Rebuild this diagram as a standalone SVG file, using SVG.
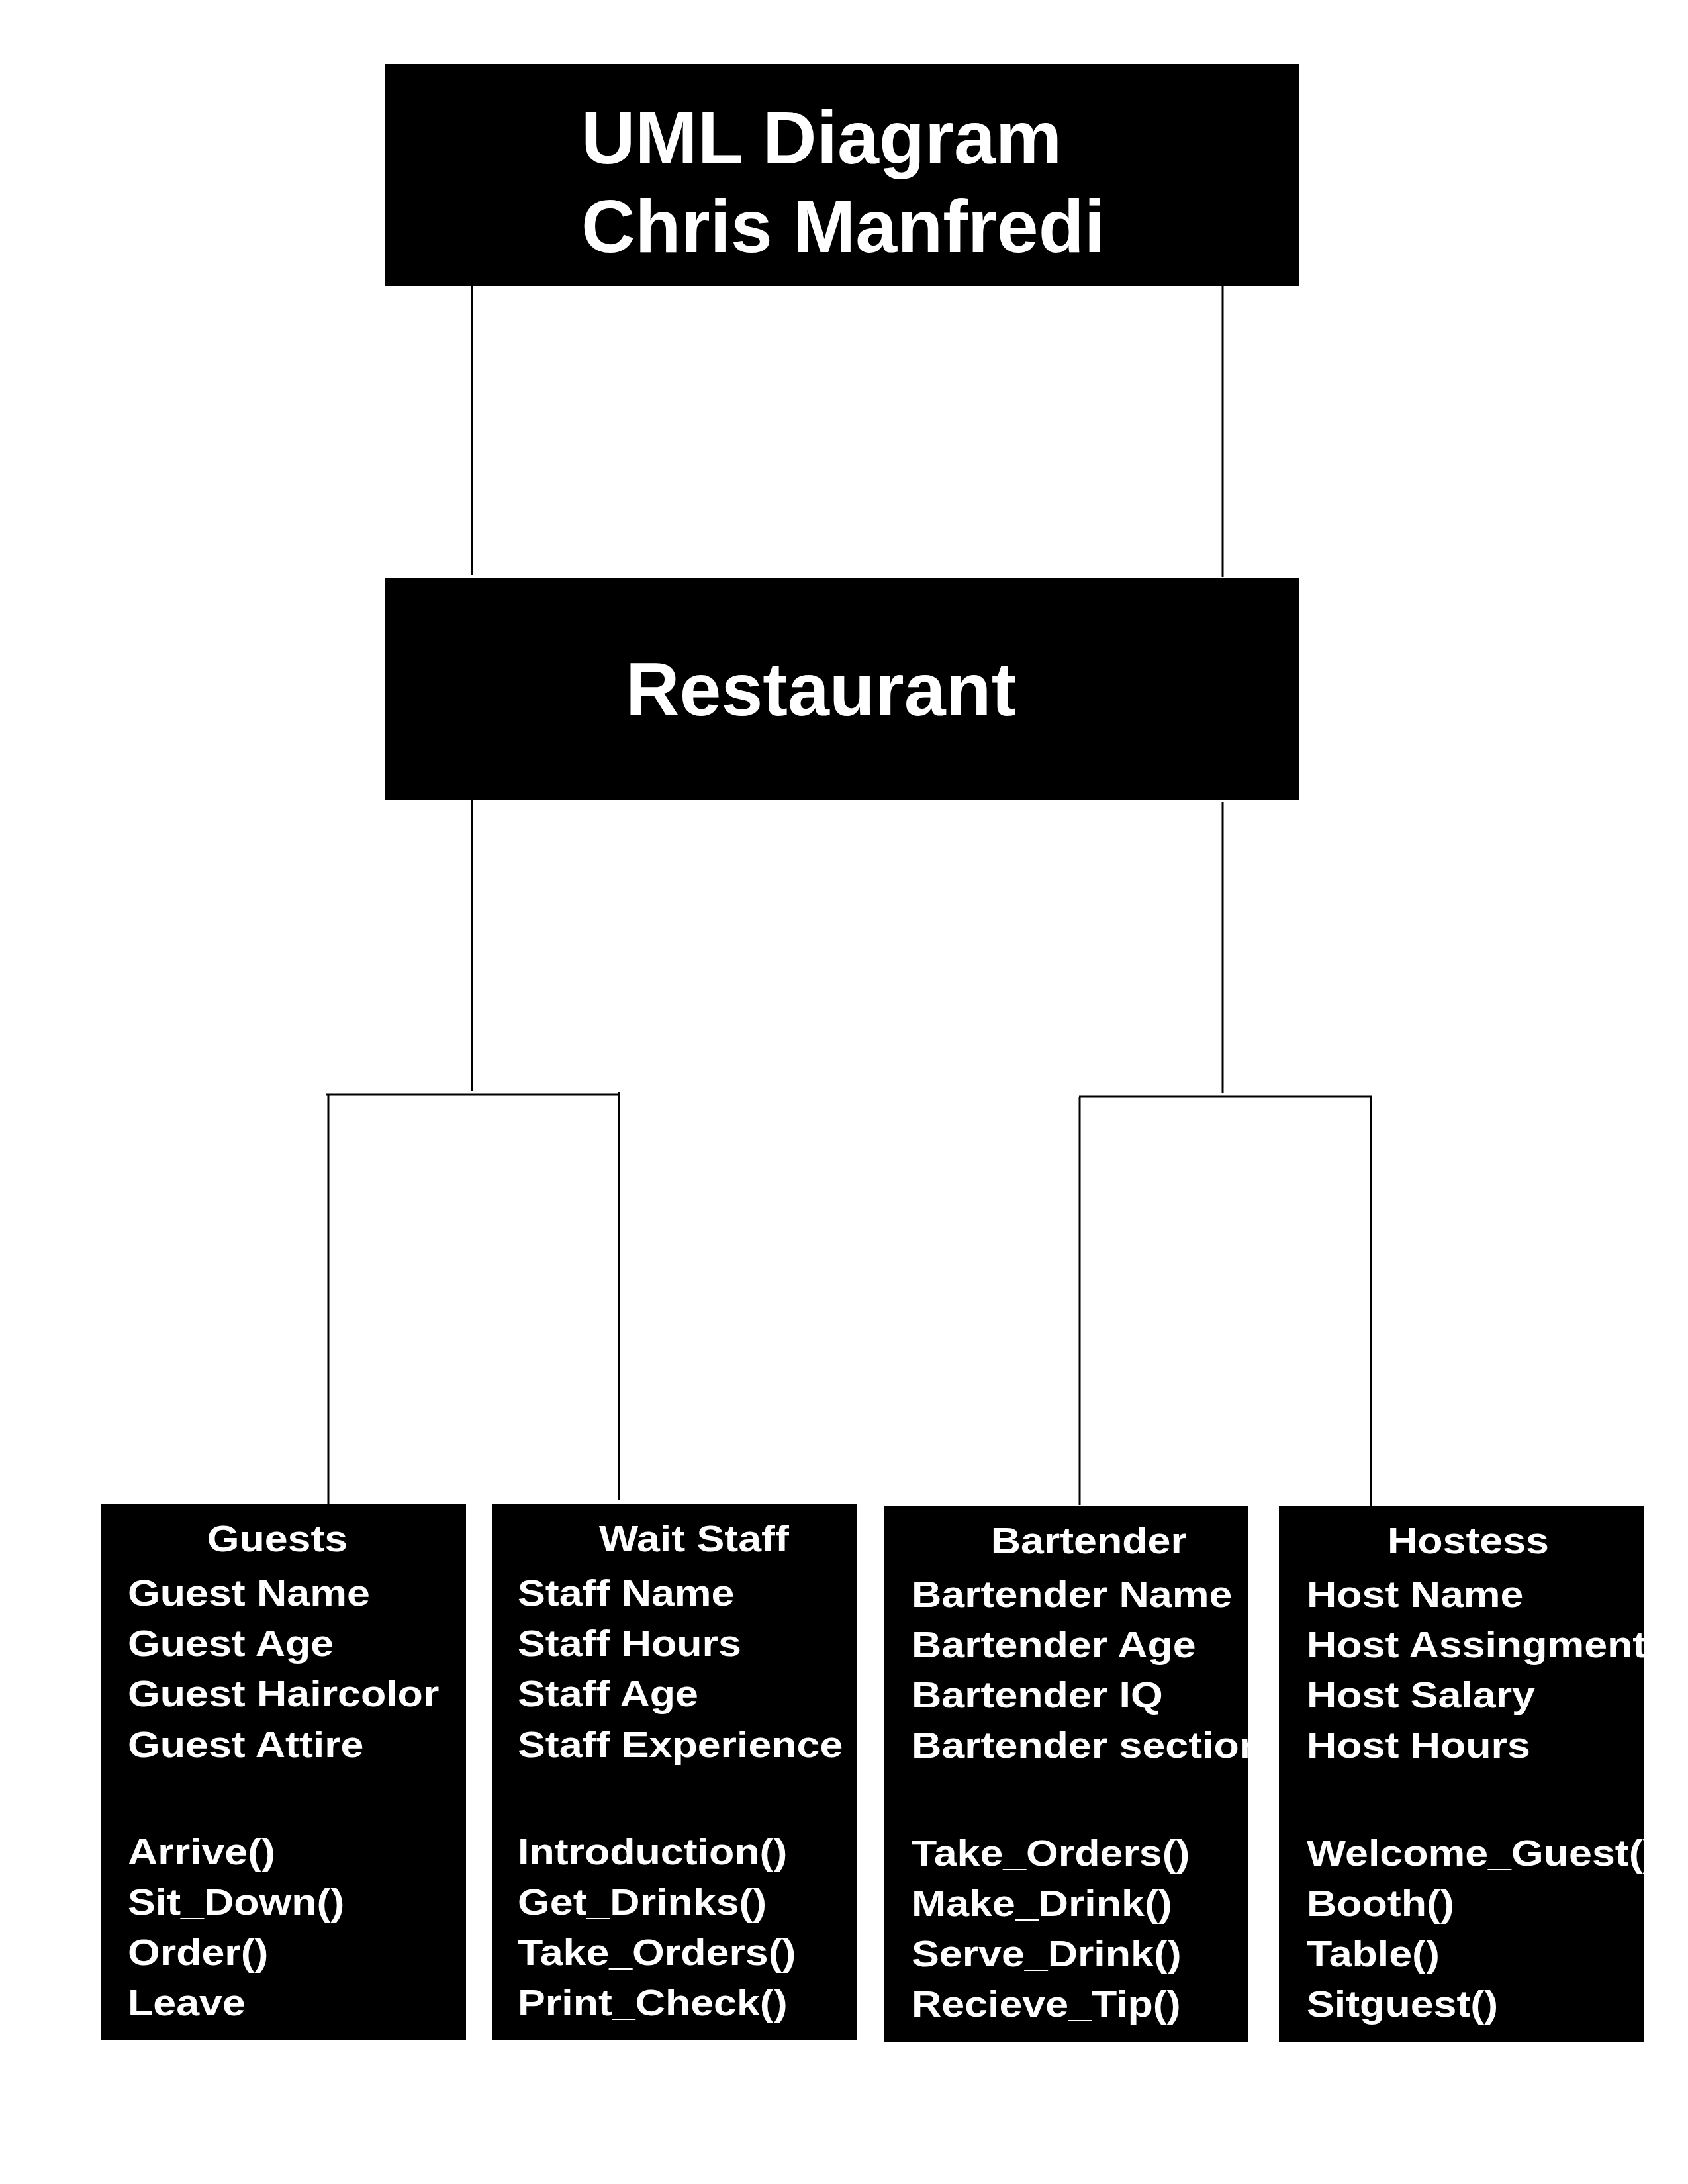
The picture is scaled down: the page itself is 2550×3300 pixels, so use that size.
<svg xmlns="http://www.w3.org/2000/svg" width="2550" height="3300" viewBox="0 0 2550 3300">
<style>
.box{fill:#000}
.title{font-family:"Liberation Sans",Arial,Helvetica,sans-serif;font-weight:bold;font-size:113px;fill:#fff}
.t{font-family:"Liberation Sans",Arial,Helvetica,sans-serif;font-weight:bold;font-size:55px;fill:#fff}
.con{stroke:#000;stroke-width:3;fill:none;stroke-linecap:butt}
</style>
<defs>
<clipPath id="clipBartender"><rect x="1335" y="2276" width="551" height="810"/></clipPath>
<clipPath id="clipHostess"><rect x="1932" y="2276" width="552" height="810"/></clipPath>
</defs>
<rect width="2550" height="3300" fill="#fff"/>

<g id="connectors">
<line class="con" x1="713" y1="432" x2="713" y2="869"/>
<line class="con" x1="1847" y1="432" x2="1847" y2="872"/>
<line class="con" x1="713" y1="1209" x2="713" y2="1649"/>
<line class="con" x1="493" y1="1654" x2="936" y2="1654"/>
<line class="con" x1="496" y1="1655" x2="496" y2="2273"/>
<line class="con" x1="935" y1="1650" x2="935" y2="2266"/>
<line class="con" x1="1847" y1="1212" x2="1847" y2="1652"/>
<line class="con" x1="1630" y1="1657" x2="2072" y2="1657"/>
<line class="con" x1="1631" y1="1657" x2="1631" y2="2274"/>
<line class="con" x1="2071" y1="1657" x2="2071" y2="2276"/>
</g>

<g id="title">
<rect class="box" x="582" y="96" width="1380" height="336"/>
<text class="title" x="878" y="247">UML Diagram</text>
<text class="title" x="878" y="381">Chris Manfredi</text>
</g>

<g id="restaurant">
<rect class="box" x="582" y="873" width="1380" height="336"/>
<text class="title" x="945" y="1081">Restaurant</text>
</g>

<g id="guests">
<rect class="box" x="153" y="2273" width="551" height="810"/>
<g transform="translate(193 0) scale(1.14 1)">
<text class="t" x="105" y="2344">Guests</text>
<text class="t" x="0" y="2426">Guest Name</text>
<text class="t" x="0" y="2502">Guest Age</text>
<text class="t" x="0" y="2578">Guest Haircolor</text>
<text class="t" x="0" y="2655">Guest Attire</text>
<text class="t" x="0" y="2817">Arrive()</text>
<text class="t" x="0" y="2893">Sit_Down()</text>
<text class="t" x="0" y="2969">Order()</text>
<text class="t" x="0" y="3045">Leave</text>
</g>
</g>

<g id="wait-staff">
<rect class="box" x="743" y="2273" width="552" height="810"/>
<g transform="translate(782 0) scale(1.14 1)">
<text class="t" x="108" y="2344">Wait Staff</text>
<text class="t" x="0" y="2426">Staff Name</text>
<text class="t" x="0" y="2502">Staff Hours</text>
<text class="t" x="0" y="2578">Staff Age</text>
<text class="t" x="0" y="2655">Staff Experience</text>
<text class="t" x="0" y="2817">Introduction()</text>
<text class="t" x="0" y="2893">Get_Drinks()</text>
<text class="t" x="0" y="2969">Take_Orders()</text>
<text class="t" x="0" y="3045">Print_Check()</text>
</g>
</g>

<g id="bartender">
<rect class="box" x="1335" y="2276" width="551" height="810"/>
<g clip-path="url(#clipBartender)">
<g transform="translate(1377 0) scale(1.14 1)">
<text class="t" x="105" y="2347">Bartender</text>
<text class="t" x="0" y="2428">Bartender Name</text>
<text class="t" x="0" y="2504">Bartender Age</text>
<text class="t" x="0" y="2580">Bartender IQ</text>
<text class="t" x="0" y="2656">Bartender section</text>
<text class="t" x="0" y="2819">Take_Orders()</text>
<text class="t" x="0" y="2895">Make_Drink()</text>
<text class="t" x="0" y="2971">Serve_Drink()</text>
<text class="t" x="0" y="3047">Recieve_Tip()</text>
</g>
</g>
</g>

<g id="hostess">
<rect class="box" x="1932" y="2276" width="552" height="810"/>
<g clip-path="url(#clipHostess)">
<g transform="translate(1974 0) scale(1.14 1)">
<text class="t" x="107" y="2347">Hostess</text>
<text class="t" x="0" y="2428">Host Name</text>
<text class="t" x="0" y="2504">Host Assingment</text>
<text class="t" x="0" y="2580">Host Salary</text>
<text class="t" x="0" y="2656">Host Hours</text>
<text class="t" x="0" y="2819">Welcome_Guest()</text>
<text class="t" x="0" y="2895">Booth()</text>
<text class="t" x="0" y="2971">Table()</text>
<text class="t" x="0" y="3047">Sitguest()</text>
</g>
</g>
</g>
</svg>
